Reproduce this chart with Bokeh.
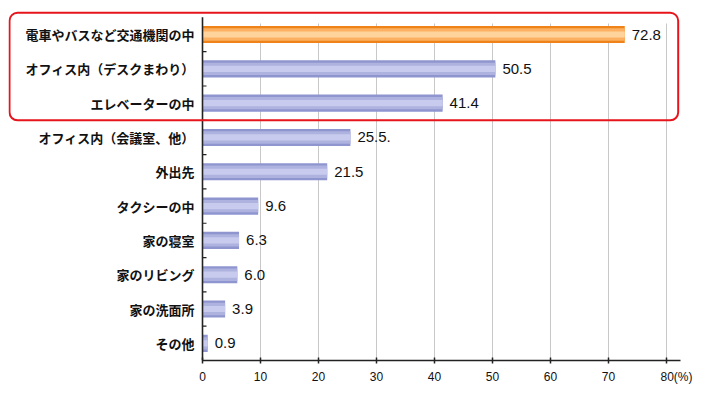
from bokeh.plotting import figure
from bokeh.models import Range1d, FixedTicker, BoxAnnotation, ColumnDataSource
from bokeh.core.properties import value
from bokeh.embed import file_html
from bokeh.resources import INLINE

categories = ["電車やバスなど交通機関の中", "オフィス内（デスクまわり）", "エレベーターの中",
              "オフィス内（会議室、他）", "外出先", "タクシーの中", "家の寝室",
              "家のリビング", "家の洗面所", "その他"]
values = [72.8, 50.5, 41.4, 25.5, 21.5, 9.6, 6.3, 6.0, 3.9, 0.9]
value_labels = ["72.8", "50.5", "41.4", "25.5.", "21.5", "9.6", "6.3", "6.0", "3.9", "0.9"]
x_ticks = [0, 10, 20, 30, 40, 50, 60, 70, 80]
unit_label = "(%)"
highlight_count = 3

n = len(categories)
ys = [n - 1 - i for i in range(n)]

edge = ["#f0821a" if i == 0 else "#8f95cf" for i in range(n)]
mid = ["#fbb062" if i == 0 else "#aeb2df" for i in range(n)]
light = ["#ffd49c" if i == 0 else "#c8cbee" for i in range(n)]

src = ColumnDataSource(dict(y=ys, v=values, lab=value_labels, cat=categories,
                            zero=[0] * n, edge=edge, mid=mid, light=light))

PX = 5.8  # pixels per unit on x
x_start = -194 / PX
x_end = 480 / PX
axis_end = 478 / PX
y_top = (n - 1) + 24 / 34.3

p = figure(width=705, height=386, output_backend="svg", toolbar_location=None,
           x_range=Range1d(x_start, x_end), y_range=Range1d(-0.5, y_top),
           frame_width=674, frame_height=350,
           min_border_left=8, min_border_top=10, min_border_right=23, min_border_bottom=26)
p.outline_line_color = None
p.background_fill_color = "white"
p.yaxis.visible = False
p.xgrid.grid_line_color = None
p.ygrid.grid_line_color = None

# vertical grid lines
p.segment(x0=x_ticks[1:], x1=x_ticks[1:], y0=-0.5, y1=(n - 1) + 11 / 34.3,
          line_color="#c8c8c8", line_width=1, level="underlay")

# bars
p.hbar(y="y", left=0, right="v", height=0.5, source=src, fill_color="edge", line_color=None)
p.hbar(y="y", left=0, right="v", height=0.36, source=src, fill_color="mid", line_color=None)
p.hbar(y="y", left=0, right="v", height=0.18, source=src, fill_color="light", line_color=None)

# value labels
p.text(x="v", y="y", text="lab", source=src, x_offset=7, text_baseline="middle",
       text_align="left", text_font_size="15px", text_color="#111111",
       text_font=value("Liberation Sans"))

# category labels
p.text(x="zero", y="y", text="cat", source=src, x_offset=-8, text_baseline="middle",
       text_align="right", text_font_size="13px", text_color="#111111",
       text_font=value("Noto Sans CJK JP"), text_font_style="bold")

# y axis line and boundary ticks
p.segment(x0=0, x1=0, y0=-0.5, y1=n - 0.5, line_color="#222222", line_width=1.6)
p.segment(x0=0, x1=4 / PX, y0=[k + 0.5 for k in range(n - 1)],
          y1=[k + 0.5 for k in range(n - 1)], line_color="#222222", line_width=1.2)

# x axis
p.xaxis.ticker = FixedTicker(ticks=x_ticks)
p.xaxis.bounds = (0, axis_end)
p.xaxis.major_label_overrides = {x_ticks[-1]: "\u2007\u2007\u2007" + str(x_ticks[-1]) + unit_label}
p.xaxis.major_tick_in = 3
p.xaxis.major_tick_out = 3
p.xaxis.minor_tick_line_color = None
p.xaxis.axis_line_width = 1.6
p.xaxis.axis_line_color = "#222222"
p.xaxis.major_tick_line_color = "#222222"
p.xaxis.major_tick_line_width = 1.5
p.xaxis.major_label_text_font = "Liberation Sans"
p.xaxis.major_label_text_font_size = "12px"
p.xaxis.major_label_text_color = "#111111"
p.xaxis.major_label_standoff = 6

# highlight box around the top categories
p.add_layout(BoxAnnotation(left=-193 / PX, right=475.7 / PX,
                           top=(n - 1) + 21.7 / 34.3, bottom=n - highlight_count - 0.5,
                           fill_color=None, fill_alpha=0, line_color="#e8141c",
                           line_alpha=1.0, line_width=2, border_radius=8))

open("out.html", "w").write(file_html(p, INLINE))
